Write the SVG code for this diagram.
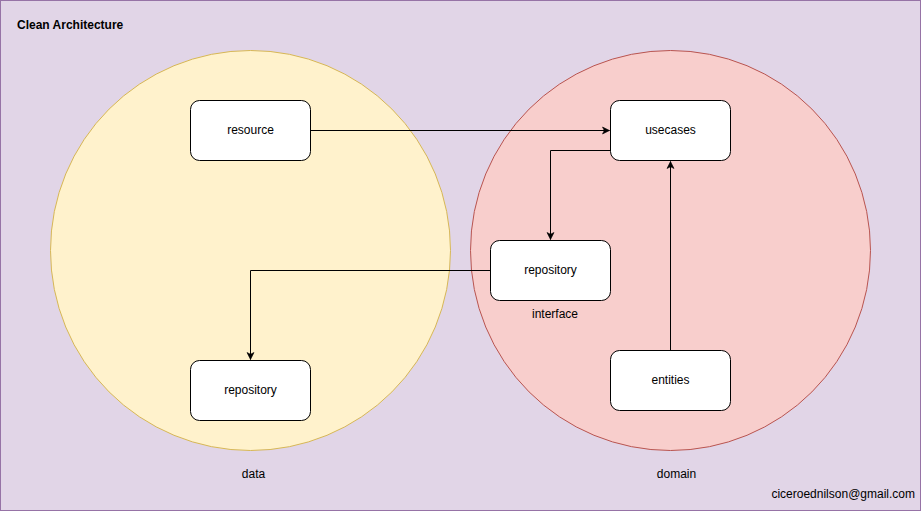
<svg xmlns="http://www.w3.org/2000/svg" width="921" height="511" viewBox="0 0 921 511">
<style>
.node rect{fill:#ffffff;stroke:#000000;stroke-width:1}
.t{font-family:"Liberation Sans",Arial,Helvetica,sans-serif;font-size:12px;fill:#000000;text-anchor:middle}
.edge{fill:none;stroke:#000000;stroke-width:1;marker-end:url(#arr)}
</style>
<defs>
<marker id="arr" markerUnits="userSpaceOnUse" viewBox="-9 -5 10 10" refX="0" refY="0" markerWidth="10" markerHeight="10" orient="auto">
<path d="M-7,-3.5 L0,0 L-7,3.5 L-5.2,0 Z" fill="#000000" stroke="#000000" stroke-width="0.6"/>
</marker>
</defs>
<rect x="0.5" y="0.5" width="920" height="510" fill="#e1d5e7" stroke="#9673a6"/>
<text x="17" y="29" style="font-family:'Liberation Sans',Arial,sans-serif;font-size:12px;font-weight:bold" fill="#000000">Clean Architecture</text>
<g id="data-circle">
<circle cx="250.5" cy="250.5" r="200" fill="#fff2cc" stroke="#d6b656"/>
<text class="t" x="253.5" y="478">data</text>
</g>
<g id="domain-circle">
<circle cx="670.5" cy="250.5" r="200" fill="#f8cecc" stroke="#b85450"/>
<text class="t" x="676.5" y="478">domain</text>
</g>
<g id="connectors">
<path class="edge" d="M310.5,130.5 L609.5,130.5"/>
<path class="edge" d="M610.5,150.5 L550.5,150.5 L550.5,239.5"/>
<path class="edge" d="M490.5,270.5 L250.5,270.5 L250.5,359.5"/>
<path class="edge" d="M670.5,350.5 L670.5,161.5"/>
</g>
<g id="resource" class="node">
<rect x="190.5" y="100.5" width="120" height="60" rx="9" ry="9"/>
<text class="t" x="250.5" y="134">resource</text>
</g>
<g id="usecases" class="node">
<rect x="610.5" y="100.5" width="120" height="60" rx="9" ry="9"/>
<text class="t" x="670.5" y="134">usecases</text>
</g>
<g id="repository-interface" class="node">
<rect x="490.5" y="240.5" width="120" height="60" rx="9" ry="9"/>
<text class="t" x="550.5" y="274">repository</text>
<text class="t" x="555" y="318">interface</text>
</g>
<g id="repository-data" class="node">
<rect x="190.5" y="360.5" width="120" height="60" rx="9" ry="9"/>
<text class="t" x="250.5" y="394">repository</text>
</g>
<g id="entities" class="node">
<rect x="610.5" y="350.5" width="120" height="60" rx="9" ry="9"/>
<text class="t" x="670.5" y="384">entities</text>
</g>
<text x="915" y="498" style="font-family:'Liberation Sans',Arial,sans-serif;font-size:12px;text-anchor:end" fill="#000000">ciceroednilson@gmail.com</text>
</svg>
